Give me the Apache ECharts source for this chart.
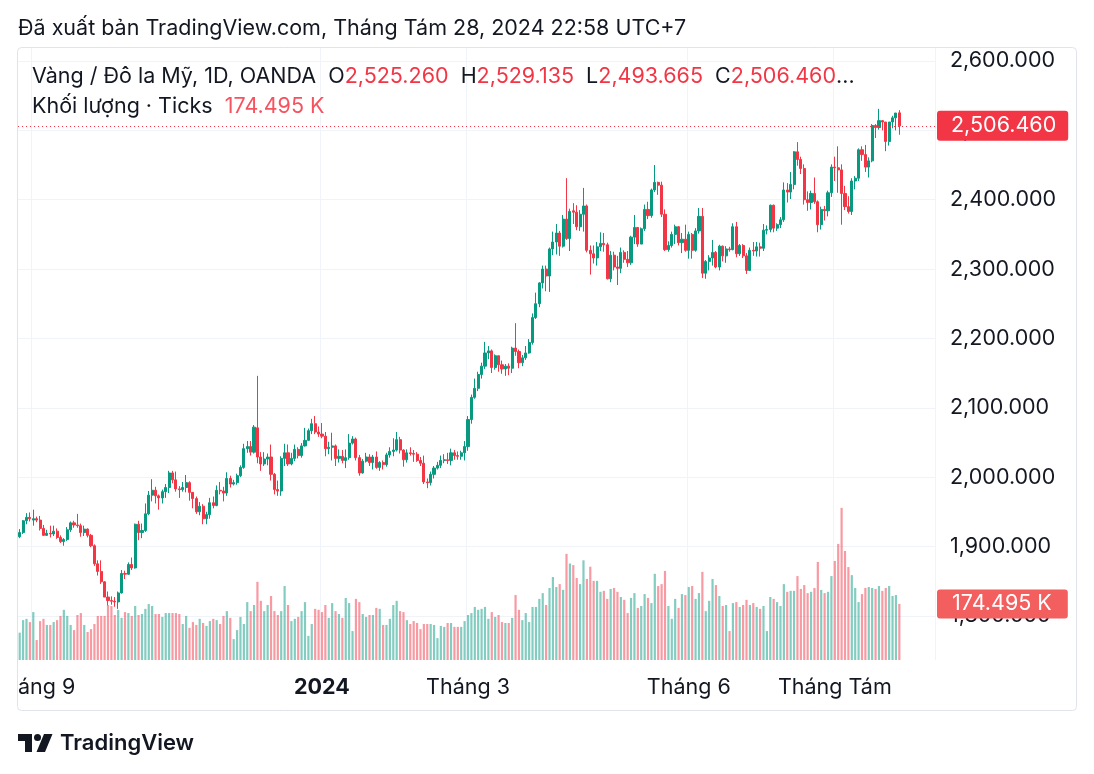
<!DOCTYPE html>
<html>
<head>
<meta charset="utf-8">
<script src="https://cdn.jsdelivr.net/npm/echarts@6/dist/echarts.min.js"></script>
<style>
  html, body { margin: 0; padding: 0; background: #fff; }
  #chart { width: 1094px; height: 774px; }
</style>
</head>
<body>
<div id="chart"></div>
<script>
// XAUUSD daily (OANDA), 28 Aug 2023 - 28 Aug 2024
const firstDay = '2023-08-28';
const closedDays = ['2023-12-25', '2024-01-01', '2024-03-29'];
const rightPadBars = 10;

const openP = [
  1914,1920,1937,1942,1938,1940,1938,1926,1916,1919,
  1918,1922,1913,1907,1910,1924,1934,1931,1930,1920,
  1925,1916,1901,1875,1864,1849,1827,1822,1821,1820,
  1833,1861,1860,1874,1869,1932,1920,1923,1947,1974,
  1981,1973,1970,1979,1985,2006,1996,1983,1982,1985,
  1992,1978,1969,1950,1958,1940,1946,1963,1959,1981,
  1980,1977,1998,1990,1992,2002,2014,2041,2044,2036,
  2071,2029,2019,2026,2029,2004,1982,1980,2027,2035,
  2019,2027,2040,2031,2045,2053,2067,2077,2065,2062,
  2059,2041,2043,2045,2027,2030,2024,2028,2049,2055,
  2028,2006,2023,2029,2021,2029,2014,2021,2018,2032,
  2037,2039,2054,2039,2025,2035,2034,2033,2024,2020,
  1993,1992,2004,2013,2017,2024,2025,2024,2035,2031,
  2030,2035,2044,2083,2115,2128,2148,2160,2179,2182,
  2158,2175,2162,2156,2160,2157,2186,2181,2165,2172,
  2179,2194,2230,2250,2280,2300,2290,2329,2339,2352,
  2333,2372,2344,2384,2382,2361,2379,2391,2327,2322,
  2316,2332,2337,2335,2286,2320,2303,2301,2324,2314,
  2309,2346,2360,2336,2358,2386,2377,2414,2425,2421,
  2379,2328,2334,2350,2361,2338,2343,2327,2350,2327,
  2355,2376,2294,2311,2316,2324,2303,2333,2319,2329,
  2328,2361,2322,2334,2319,2298,2327,2326,2332,2330,
  2356,2357,2392,2359,2364,2371,2414,2411,2422,2469,
  2458,2445,2400,2396,2409,2397,2364,2386,2384,2410,
  2447,2446,2443,2409,2390,2383,2427,2431,2472,2465,
  2447,2456,2507,2504,2514,2512,2484,2512,2518,2525.26
];

const closeP = [
  1920,1937,1942,1940,1940,1938,1926,1916,1919,1918,
  1922,1913,1907,1910,1924,1934,1931,1930,1920,1925,
  1916,1901,1875,1864,1849,1827,1822,1821,1820,1833,
  1861,1860,1874,1869,1932,1920,1923,1947,1974,1981,
  1973,1970,1979,1985,2006,1996,1983,1982,1985,1992,
  1978,1969,1950,1958,1940,1946,1963,1959,1981,1980,
  1977,1998,1990,1992,2002,2014,2041,2044,2036,2072,
  2029,2019,2026,2029,2004,1982,1980,2027,2035,2019,
  2027,2040,2031,2045,2053,2067,2077,2065,2062,2059,
  2041,2043,2045,2027,2030,2024,2028,2049,2055,2028,
  2006,2023,2029,2021,2029,2014,2021,2018,2032,2037,
  2039,2054,2039,2025,2035,2034,2033,2024,2020,1993,
  1992,2004,2013,2017,2024,2025,2024,2035,2031,2030,
  2035,2044,2083,2115,2128,2148,2160,2179,2182,2158,
  2175,2162,2156,2160,2157,2186,2181,2165,2172,2179,
  2194,2230,2250,2280,2300,2290,2329,2339,2352,2333,
  2372,2344,2383,2382,2361,2379,2391,2327,2322,2316,
  2332,2337,2335,2286,2320,2303,2301,2324,2314,2309,
  2346,2360,2336,2358,2386,2377,2414,2425,2421,2379,
  2328,2334,2350,2361,2338,2343,2327,2350,2327,2355,
  2376,2294,2311,2316,2324,2303,2333,2319,2329,2328,
  2361,2322,2334,2319,2298,2327,2326,2332,2330,2356,
  2357,2392,2359,2364,2371,2414,2411,2422,2469,2458,
  2445,2400,2396,2409,2397,2364,2386,2384,2410,2447,
  2446,2443,2409,2390,2383,2427,2431,2472,2465,2447,
  2456,2507,2504,2514,2512,2484,2512,2518,2525,2506.46
];

const lowP = [
  1912,1918,1932,1936,1930,1935,1923,1915,1915,1913,
  1915,1911,1905,1901,1908,1921,1927,1927,1914,1915,
  1913,1899,1872,1858,1846,1827,1815,1816,1813,1810,
  1832,1853,1859,1866,1868,1909,1912,1921,1945,1965,
  1962,1953,1962,1970,1977,1991,1979,1970,1979,1978,
  1966,1955,1947,1945,1932,1932,1940,1955,1958,1975,
  1965,1973,1985,1988,1989,2000,2012,2035,2031,2034,
  2020,2009,2016,2017,1995,1975,1973,1973,2016,2016,
  2017,2023,2027,2028,2044,2053,2062,2062,2058,2056,
  2030,2033,2024,2016,2021,2020,2013,2025,2047,2024,
  2002,2005,2021,2016,2011,2012,2009,2011,2015,2028,
  2030,2037,2034,2015,2021,2031,2022,2022,2016,1990,
  1984,1988,1998,2011,2013,2020,2019,2017,2025,2025,
  2025,2024,2038,2077,2113,2124,2142,2156,2170,2150,
  2155,2152,2149,2146,2147,2150,2175,2157,2160,2169,
  2178,2191,2228,2245,2272,2268,2267,2320,2321,2319,
  2331,2342,2326,2365,2356,2355,2354,2324,2292,2308,
  2305,2326,2325,2285,2281,2298,2277,2294,2309,2303,
  2306,2336,2332,2336,2355,2372,2374,2411,2407,2375,
  2326,2325,2331,2336,2334,2323,2325,2315,2315,2325,
  2351,2287,2286,2298,2305,2301,2298,2311,2309,2325,
  2327,2317,2319,2316,2293,2298,2319,2318,2318,2326,
  2350,2353,2353,2355,2359,2368,2396,2401,2415,2449,
  2437,2393,2384,2386,2394,2353,2357,2370,2376,2404,
  2427,2410,2364,2385,2380,2378,2415,2427,2456,2440,
  2432,2454,2489,2501,2500,2470,2478,2503,2500,2493.665
];

const highP = [
  1925,1938,1948,1949,1953,1943,1944,1931,1924,1930,
  1930,1926,1916,1912,1928,1936,1937,1947,1933,1930,
  1926,1918,1903,1880,1880,1850,1835,1828,1827,1835,
  1866,1865,1877,1884,1933,1937,1933,1962,1980,1997,
  1986,1975,1982,1990,2009,2009,2008,1987,1993,2003,
  1994,1978,1972,1964,1961,1950,1970,1972,1988,1993,
  1986,2007,2002,1996,2005,2017,2048,2052,2052,2075,
  2146,2036,2036,2034,2047,2006,1995,2030,2048,2047,
  2035,2047,2043,2049,2071,2070,2084,2088,2073,2078,
  2065,2051,2064,2047,2040,2039,2040,2062,2059,2057,
  2032,2026,2035,2033,2032,2037,2023,2024,2035,2043,
  2056,2065,2058,2040,2040,2043,2039,2036,2029,2031,
  1998,2008,2016,2022,2031,2033,2035,2041,2039,2037,
  2038,2052,2088,2119,2142,2152,2165,2195,2189,2184,
  2177,2175,2168,2163,2164,2188,2222,2184,2176,2189,
  2199,2236,2266,2281,2305,2305,2331,2354,2365,2355,
  2378,2431,2387,2395,2392,2385,2417,2393,2334,2334,
  2339,2353,2352,2338,2326,2325,2319,2331,2327,2326,
  2348,2378,2360,2360,2393,2397,2416,2450,2426,2426,
  2386,2340,2354,2364,2362,2352,2364,2354,2352,2359,
  2388,2388,2313,2320,2342,2326,2335,2334,2333,2332,
  2366,2368,2336,2336,2323,2331,2339,2339,2338,2365,
  2363,2393,2393,2366,2375,2425,2424,2440,2470,2483,
  2462,2451,2412,2413,2432,2399,2390,2391,2413,2451,
  2462,2477,2451,2420,2405,2431,2434,2474,2477,2479,
  2461,2509,2509,2531,2515,2509,2512,2521,2525,2529.135
];

// tick volume, thousands
const volK = [
  85,124,128,118,149,62,121,128,109,109,
  118,124,137,156,137,109,93,140,146,109,
  87,96,112,137,137,137,171,168,140,156,
  131,149,146,137,168,140,143,159,174,168,
  143,143,134,146,146,146,146,143,112,137,
  100,118,109,128,115,106,121,128,124,112,
  137,152,131,65,93,134,112,180,152,171,
  243,184,152,171,199,152,140,152,230,171,
  121,128,134,152,180,75,112,159,156,149,
  171,131,177,152,143,131,193,177,90,190,
  180,143,134,140,140,162,159,109,109,128,
  171,184,152,149,124,112,121,115,96,112,
  112,112,109,68,106,103,115,115,103,103,
  103,121,140,146,165,156,159,165,128,149,
  134,140,118,115,115,131,202,156,124,146,
  118,165,165,190,208,171,224,258,227,236,
  218,330,300,295,255,236,310,252,290,246,
  246,212,215,190,221,224,212,196,187,146,
  193,208,162,168,205,193,177,268,230,236,
  277,168,128,190,162,205,202,227,230,190,
  208,274,152,184,252,233,199,168,171,90,
  177,180,165,171,187,171,177,165,159,168,
  90,196,190,180,168,236,212,215,215,261,
  221,233,208,212,224,305,218,208,212,261,
  308,361,473,339,289,264,224,180,205,224,
  227,224,221,230,215,224,230,199,202,174.495
];

const tickDays = ['2023-09-01', '2024-01-02', '2024-03-01', '2024-06-03', '2024-08-01'];
const tickTexts = ['Tháng 9', '2024', 'Tháng 3', 'Tháng 6', 'Tháng Tám'];

const UP = '#089981';
const DOWN = '#f23645';
const VOL_UP = 'rgba(8,153,129,0.5)';
const VOL_DOWN = 'rgba(242,54,69,0.5)';
const GRID = '#f0f3fa';
const TEXT = '#131722';
const FONT = 'Inter, "Noto Sans", sans-serif';
const FS = 21.5;

// trading days on the x axis (weekends and closed days skipped), plus empty room on the right
const days = [];
const cur = new Date(firstDay + 'T00:00:00Z');
while (days.length < closeP.length + rightPadBars) {
  const wd = cur.getUTCDay();
  const s = cur.toISOString().slice(0, 10);
  if (wd !== 0 && wd !== 6 && !closedDays.includes(s)) days.push(s);
  cur.setUTCDate(cur.getUTCDate() + 1);
}

const candles = closeP.map((c, i) => [openP[i], c, lowP[i], highP[i]]);
const volumes = volK.map((v, i) => ({
  value: v,
  itemStyle: { color: closeP[i] >= openP[i] ? VOL_UP : VOL_DOWN }
}));

const fmt = v => v.toLocaleString('en-US', { minimumFractionDigits: 3, maximumFractionDigits: 3 });
const last = closeP.length - 1;
const isTick = (idx, val) => tickDays.indexOf(val) >= 0;

const chart = echarts.init(document.getElementById('chart'), null, { renderer: 'canvas' });

chart.setOption({
  animation: false,
  backgroundColor: '#fff',
  textStyle: { fontFamily: FONT },
  grid: [
    { left: 18, right: 159, top: 61, height: 624.15, containLabel: false, outerBoundsMode: 'none' },
    { left: 18, right: 159, top: 48, height: 612, containLabel: false, outerBoundsMode: 'none' }
  ],
  xAxis: [
    {
      type: 'category', gridIndex: 0, data: days, boundaryGap: true,
      axisLine: { show: false }, axisTick: { show: false },
      axisLabel: { show: false }, splitLine: { show: false }
    },
    {
      type: 'category', gridIndex: 1, data: days, boundaryGap: true,
      axisLine: { show: false }, axisTick: { show: false },
      axisLabel: {
        interval: isTick,
        margin: 17,
        fontSize: FS,
        color: TEXT,
        fontFamily: FONT,
        hideOverlap: false,
        formatter: val => {
          const k = tickDays.indexOf(val);
          if (k < 0) return '';
          return tickTexts[k] === '2024' ? '{b|2024}' : tickTexts[k];
        },
        rich: { b: { fontWeight: 'bold', fontSize: FS, color: TEXT, fontFamily: FONT } }
      },
      splitLine: { show: true, interval: isTick, lineStyle: { color: GRID, width: 1 } }
    }
  ],
  yAxis: [
    {
      type: 'value', gridIndex: 0, position: 'right',
      min: 1700, max: 2600, interval: 100,
      axisLine: { show: false }, axisTick: { show: false },
      axisLabel: {
        margin: 15, fontSize: FS, color: TEXT, fontFamily: FONT,
        showMinLabel: false,
        formatter: v => (v < 1800 ? '' : fmt(v))
      },
      splitLine: { show: true, showMinLine: false, lineStyle: { color: GRID, width: 1 } }
    },
    {
      type: 'value', gridIndex: 1, min: 0, max: 1903,
      show: false, splitLine: { show: false }
    }
  ],
  series: [
    {
      name: 'Volume', type: 'bar', xAxisIndex: 1, yAxisIndex: 1,
      data: volumes, barWidth: 2.2, z: 2,
      markLine: {
        silent: true, symbol: 'none',
        lineStyle: { color: 'rgba(0,0,0,0)', width: 1 },
        label: {
          show: true, position: 'end', distance: 2,
          formatter: volK[last].toFixed(3) + ' K',
          color: '#fff', fontSize: FS, fontFamily: FONT,
          backgroundColor: '#f35f5f', borderRadius: 3, padding: [4, 16, 3, 15]
        },
        data: [{ yAxis: volK[last] }]
      }
    },
    {
      name: 'XAUUSD', type: 'candlestick', xAxisIndex: 0, yAxisIndex: 0,
      data: candles, barWidth: 2.6, z: 3,
      itemStyle: { color: UP, color0: DOWN, borderColor: UP, borderColor0: DOWN, borderWidth: 1 },
      markLine: {
        silent: true, symbol: 'none',
        lineStyle: { color: DOWN, type: [1, 3], width: 1 },
        label: {
          show: true, position: 'end', distance: 2,
          formatter: fmt(closeP[last]),
          color: '#fff', fontSize: FS, fontFamily: FONT,
          backgroundColor: DOWN, borderRadius: 3, padding: [5, 12, 3, 14]
        },
        data: [{ yAxis: closeP[last] }]
      }
    }
  ],
  graphic: [
    {
      type: 'rect', z: 100, silent: true,
      shape: { x: 0, y: 664, width: 17, height: 44 },
      style: { fill: '#fff' }
    },
    {
      type: 'rect', z: 101, silent: true,
      shape: { x: 17.5, y: 47.5, width: 1059, height: 663, r: 4 },
      style: { fill: 'none', stroke: '#e0e3eb', lineWidth: 1 }
    },
    {
      type: 'text', x: 18, y: 29, z: 101,
      style: {
        text: 'Đã xuất bản TradingView.com, Tháng Tám 28, 2024 22:58 UTC+7',
        font: FS + 'px ' + FONT, fill: TEXT, verticalAlign: 'middle'
      }
    },
    {
      type: 'text', x: 32, y: 77, z: 101,
      style: {
        text: 'Vàng / Đô la Mỹ, 1D, OANDA  O{r|' + fmt(openP[last]) + '}  H{r|' + fmt(highP[last]) +
              '}  L{r|' + fmt(lowP[last]) + '}  C{r|' + fmt(closeP[last]) + '}...',
        font: FS + 'px ' + FONT, fill: TEXT, verticalAlign: 'middle',
        rich: { r: { fill: DOWN, font: FS + 'px ' + FONT } }
      }
    },
    {
      type: 'text', x: 32, y: 107, z: 101,
      style: {
        text: 'Khối lượng · Ticks  {r|' + volK[last].toFixed(3) + ' K}',
        font: FS + 'px ' + FONT, fill: TEXT, verticalAlign: 'middle',
        rich: { r: { fill: '#f7525f', font: FS + 'px ' + FONT } }
      }
    },
    // TradingView logo
    {
      type: 'polygon', z: 101, silent: true,
      shape: { points: [[18, 734], [32, 734], [32, 752], [25, 752], [25, 741], [18, 741]] },
      style: { fill: TEXT }
    },
    {
      type: 'circle', z: 101, silent: true,
      shape: { cx: 37.5, cy: 737.5, r: 3.5 },
      style: { fill: TEXT }
    },
    {
      type: 'polygon', z: 101, silent: true,
      shape: { points: [[44, 734], [52.5, 734], [45, 752], [36.5, 752]] },
      style: { fill: TEXT }
    },
    {
      type: 'text', x: 60, y: 743, z: 101,
      style: { text: 'TradingView', font: '600 22px ' + FONT, fill: TEXT, verticalAlign: 'middle' }
    }
  ]
});
</script>
</body>
</html>
